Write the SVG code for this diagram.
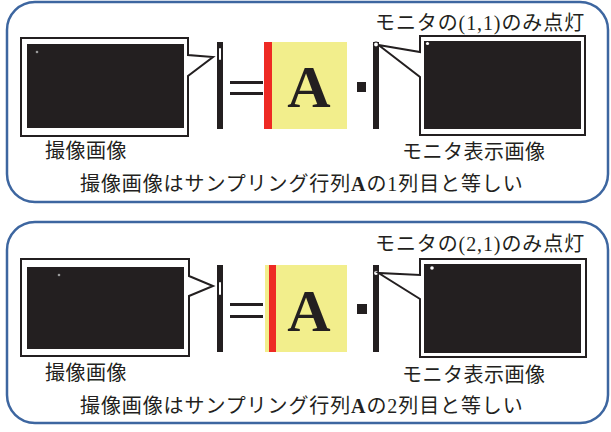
<svg xmlns="http://www.w3.org/2000/svg" width="611" height="432" viewBox="0 0 611 432">
<style>
.panel{fill:#fff;stroke:#3d66a0;stroke-width:2.5}
.blk{fill:#231f20}
.callout{fill:#fff;stroke:#231f20;stroke-width:2;stroke-linejoin:miter}
.yel{fill:#f2ee8c}
.red{fill:#ee2a24}
.jp{font-family:"Noto Sans CJK JP","Noto Sans CJK SC",sans-serif;font-size:20px;fill:#231f20}
.ls1{letter-spacing:0.9px}
.ls2{letter-spacing:0.5px}
.sr{font-family:"Liberation Serif",serif}
.bigA{font-family:"Liberation Serif",serif;font-weight:bold;font-size:60px;fill:#231f20;text-anchor:middle}
.ring{fill:#fff;stroke:#231f20;stroke-width:1.2}
</style>
<rect width="611" height="432" fill="#fff"/>

<g id="panel1">
  <rect class="panel" x="7" y="2" width="601" height="200" rx="28"/>
  <g id="p1-captured">
    <path class="callout" d="M21,38 H188 V55 L213,57 L188,76 V136 H21 Z"/>
    <rect class="blk" x="27" y="44" width="157" height="84"/>
    <circle cx="37" cy="52" r="1.3" fill="#9a9a9a"/>
    <text class="jp ls2" x="45" y="158">撮像画像</text>
  </g>
  <g id="p1-vector">
    <rect class="blk" x="217" y="42" width="6" height="87"/>
    <rect x="219" y="48" width="2" height="12" rx="1" fill="#fff"/>
  </g>
  <g id="p1-equals">
    <rect class="blk" x="230" y="81" width="33" height="3"/>
    <rect class="blk" x="230" y="92" width="33" height="3"/>
  </g>
  <g id="p1-matrix">
    <rect class="yel" x="264" y="42" width="83" height="87"/>
    <rect class="red" x="264" y="42" width="8" height="87"/>
    <text class="bigA" x="309" y="107">A</text>
  </g>
  <g id="p1-dot"><rect class="blk" x="357" y="82" width="9" height="10"/></g>
  <g id="p1-column">
    <rect class="blk" x="373" y="42" width="6" height="87"/>
    <circle class="ring" cx="376" cy="44.5" r="2.5"/>
  </g>
  <g id="p1-monitor">
    <path class="callout" d="M420,36 H585 V135 H420 V77 L378.5,45 L420,52 Z"/>
    <rect class="blk" x="424" y="41" width="157" height="88"/>
    <circle cx="427.5" cy="43.5" r="1.6" fill="#fff"/>
    <text class="jp ls1" x="375" y="30">モニタの<tspan class="sr">(1,1)</tspan>のみ点灯</text>
    <text class="jp ls2" x="402" y="159">モニタ表示画像</text>
  </g>
  <text class="jp ls1" x="80" y="191" font-size="20.5">撮像画像はサンプリング行列<tspan class="sr" font-weight="bold">A</tspan>の<tspan class="sr">1</tspan>列目と等しい</text>
</g>

<g id="panel2">
  <rect class="panel" x="7" y="222" width="601" height="201" rx="28"/>
  <g id="p2-captured">
    <path class="callout" d="M21,259 H189 V276 L213,286 L189,296 V356 H21 Z"/>
    <rect class="blk" x="27" y="267" width="157" height="82"/>
    <circle cx="59" cy="275" r="1.3" fill="#9a9a9a"/>
    <text class="jp ls2" x="45" y="380">撮像画像</text>
  </g>
  <g id="p2-vector">
    <rect class="blk" x="217" y="265" width="6" height="87"/>
    <rect x="219" y="282" width="2" height="13" rx="1" fill="#fff"/>
  </g>
  <g id="p2-equals">
    <rect class="blk" x="230" y="303" width="33" height="3"/>
    <rect class="blk" x="230" y="315" width="33" height="3"/>
  </g>
  <g id="p2-matrix">
    <rect class="yel" x="265" y="265" width="82" height="87"/>
    <rect class="red" x="269" y="265" width="7" height="87"/>
    <text class="bigA" x="309" y="331">A</text>
  </g>
  <g id="p2-dot"><rect class="blk" x="357" y="304" width="10" height="10"/></g>
  <g id="p2-column">
    <rect class="blk" x="373" y="265" width="6" height="87"/>
    <circle class="ring" cx="376" cy="273" r="2.5"/>
  </g>
  <g id="p2-monitor">
    <path class="callout" d="M420,259 H586 V357 H420 V299 L378.5,273 L420,275 Z"/>
    <rect class="blk" x="424" y="264" width="157" height="89"/>
    <circle cx="432" cy="268" r="1.8" fill="#fff"/>
    <text class="jp ls1" x="375" y="251">モニタの<tspan class="sr">(2,1)</tspan>のみ点灯</text>
    <text class="jp ls2" x="402" y="382">モニタ表示画像</text>
  </g>
  <text class="jp ls1" x="80" y="413" font-size="20.5">撮像画像はサンプリング行列<tspan class="sr" font-weight="bold">A</tspan>の<tspan class="sr">2</tspan>列目と等しい</text>
</g>
<g id="connectors"/>
</svg>
